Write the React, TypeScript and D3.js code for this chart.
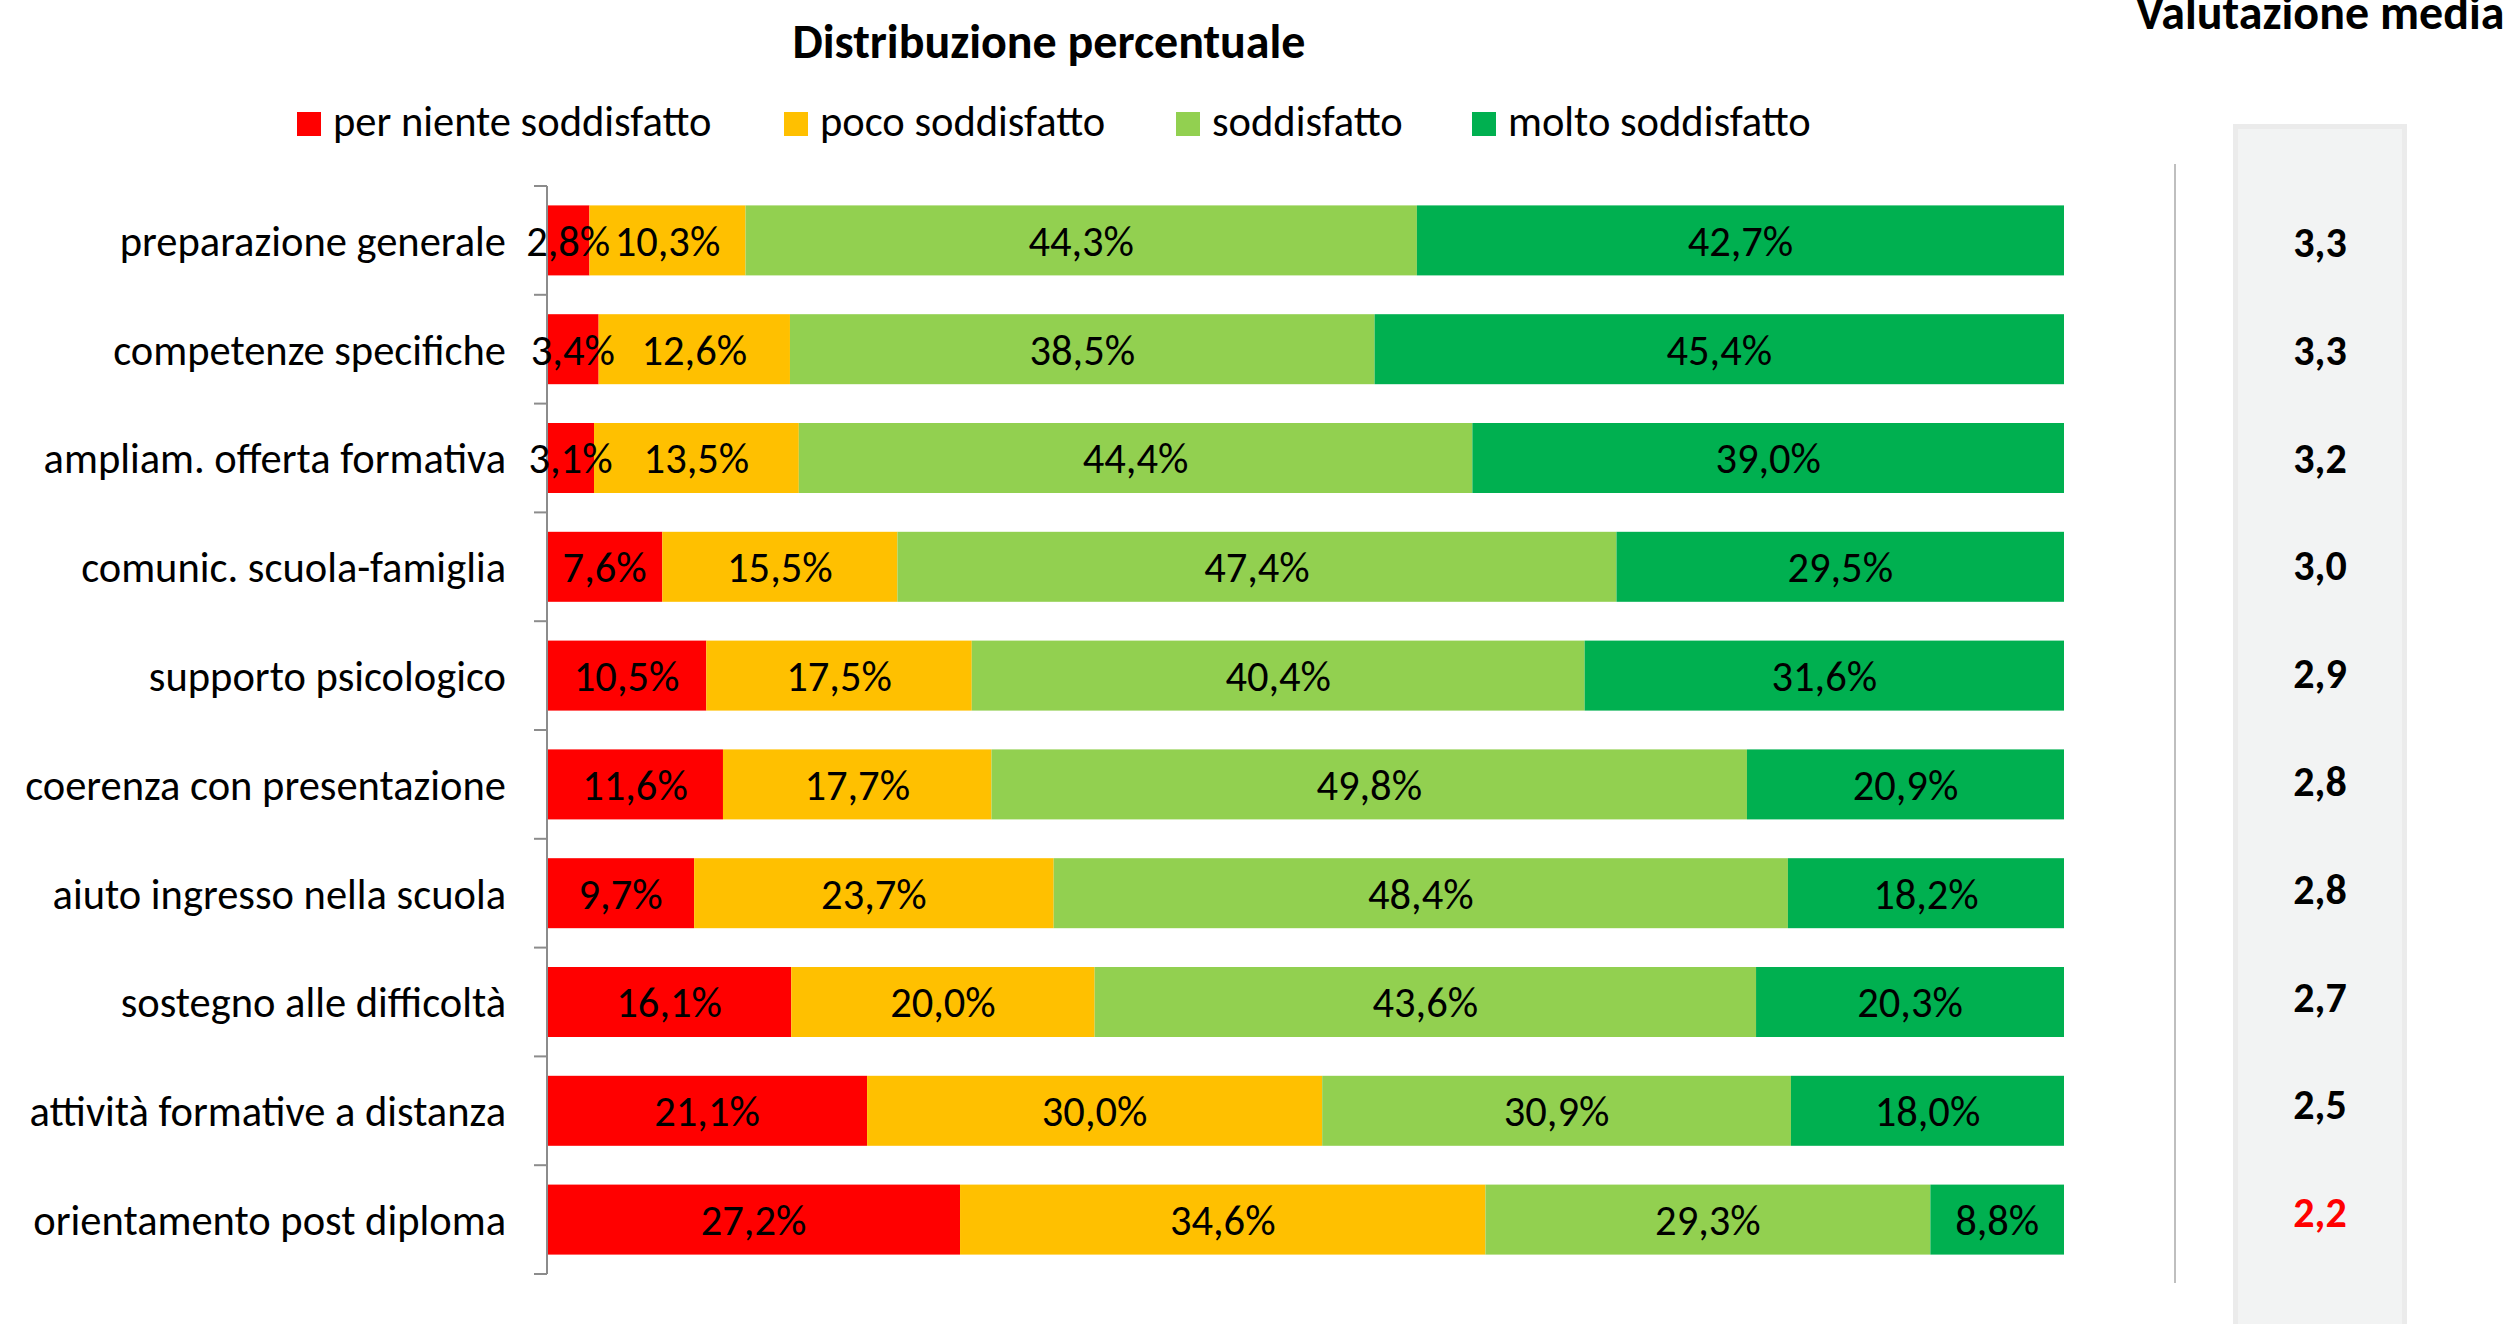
import React from "react";
import * as d3 from "d3";

const categories = [
  "preparazione generale",
  "competenze specifiche",
  "ampliam. offerta formativa",
  "comunic. scuola-famiglia",
  "supporto psicologico",
  "coerenza con presentazione",
  "aiuto ingresso nella scuola",
  "sostegno alle difficoltà",
  "attività formative a distanza",
  "orientamento post diploma",
];

const seriesNames = ["per niente soddisfatto", "poco soddisfatto", "soddisfatto", "molto soddisfatto"];
const seriesColors = ["#FF0000", "#FFC000", "#92D050", "#00B050"];

const perNiente = [2.8, 3.4, 3.1, 7.6, 10.5, 11.6, 9.7, 16.1, 21.1, 27.2];
const poco = [10.3, 12.6, 13.5, 15.5, 17.5, 17.7, 23.7, 20.0, 30.0, 34.6];
const soddisfatto = [44.3, 38.5, 44.4, 47.4, 40.4, 49.8, 48.4, 43.6, 30.9, 29.3];
const molto = [42.7, 45.4, 39.0, 29.5, 31.6, 20.9, 18.2, 20.3, 18.0, 8.8];

const mediaValues = [3.3, 3.3, 3.2, 3.0, 2.9, 2.8, 2.8, 2.7, 2.5, 2.2];

const FONT = "Carlito, Calibri, Lato, sans-serif";

const fmtPct = (v: number) => v.toFixed(1).replace(".", ",") + "%";
const fmtVal = (v: number) => v.toFixed(1).replace(".", ",");

export default function App() {
  const W = 2513;
  const H = 1324;
  const series = [perNiente, poco, soddisfatto, molto];

  const x = d3.scaleLinear().domain([0, 1]).range([547, 2064]);
  const y = d3
    .scaleBand<string>()
    .domain(categories)
    .range([186, 1274])
    .paddingInner(0.3566)
    .paddingOuter(0.1783);
  const yVal = d3.scalePoint<string>().domain(categories).range([242, 1212]);

  const rows = categories.map((c, i) => {
    const vals = series.map((s) => s[i]);
    const total = d3.sum(vals);
    let acc = 0;
    return vals.map((v, k) => {
      const x0 = acc / total;
      acc += v;
      const x1 = acc / total;
      return { cat: c, k, v, x0, x1 };
    });
  });

  const step = y.step();
  const tickYs = d3.range(categories.length + 1).map((i) => 186 + i * step);

  const legendX = [297, 784, 1176, 1472];
  const labelSize = 42.5;

  return (
    <svg
      width={W}
      height={H}
      style={{ position: "absolute", left: 0, top: 0, background: "#fff" }}
      fontFamily={FONT}
    >
      <rect x={0} y={0} width={W} height={H} fill="#ffffff" />
      {/* titles */}
      <text x={1049} y={58} textAnchor="middle" fontSize={48} fontWeight="bold" fill="#000">
        Distribuzione percentuale
      </text>
      <text x={2320} y={29} textAnchor="middle" fontSize={48} fontWeight="bold" fill="#000">
        Valutazione media
      </text>

      {/* legend */}
      {seriesNames.map((n, k) => (
        <g key={n}>
          <rect x={legendX[k]} y={112} width={24} height={24} fill={seriesColors[k]} />
          <text x={legendX[k] + 36} y={136} fontSize={labelSize} fill="#000">
            {n}
          </text>
        </g>
      ))}

      {/* bars */}
      {rows.map((segs) =>
        segs.map((s) => (
          <rect
            key={s.cat + s.k}
            x={x(s.x0)}
            y={y(s.cat)}
            width={x(s.x1) - x(s.x0)}
            height={y.bandwidth()}
            fill={seriesColors[s.k]}
          />
        ))
      )}

      {/* axis */}
      <line x1={547} x2={547} y1={tickYs[0]} y2={tickYs[tickYs.length - 1]} stroke="#8c8c8c" strokeWidth={2} />
      {tickYs.map((t, i) => (
        <line key={i} x1={534} x2={547} y1={t} y2={t} stroke="#8c8c8c" strokeWidth={2} />
      ))}

      {/* category labels */}
      {categories.map((c) => (
        <text
          key={c}
          x={506}
          y={(y(c) as number) + y.bandwidth() / 2}
          dy="0.36em"
          textAnchor="end"
          fontSize={labelSize}
          fill="#000"
        >
          {c}
        </text>
      ))}

      {/* data labels */}
      {rows.map((segs) =>
        segs.map((s) => (
          <text
            key={"l" + s.cat + s.k}
            x={(x(s.x0) + x(s.x1)) / 2}
            y={(y(s.cat) as number) + y.bandwidth() / 2}
            dy="0.36em"
            textAnchor="middle"
            fontSize={labelSize}
            fill="#000"
          >
            {fmtPct(s.v)}
          </text>
        ))
      )}

      {/* separator line */}
      <line x1={2175} x2={2175} y1={164} y2={1283} stroke="#bfbfbf" strokeWidth={2} />

      {/* media column */}
      <rect x={2233} y={124} width={174} height={H - 124 + 10} fill="#ebebeb" />
      <rect x={2238} y={129} width={164} height={H - 129 + 10} fill="#f2f3f3" />
      {categories.map((c, i) => (
        <text
          key={"m" + c}
          x={2320}
          y={yVal(c) as number}
          dy="0.36em"
          textAnchor="middle"
          fontSize={42}
          fontWeight="bold"
          fill={mediaValues[i] < 2.5 ? "#FF0000" : "#000"}
        >
          {fmtVal(mediaValues[i])}
        </text>
      ))}
    </svg>
  );
}
